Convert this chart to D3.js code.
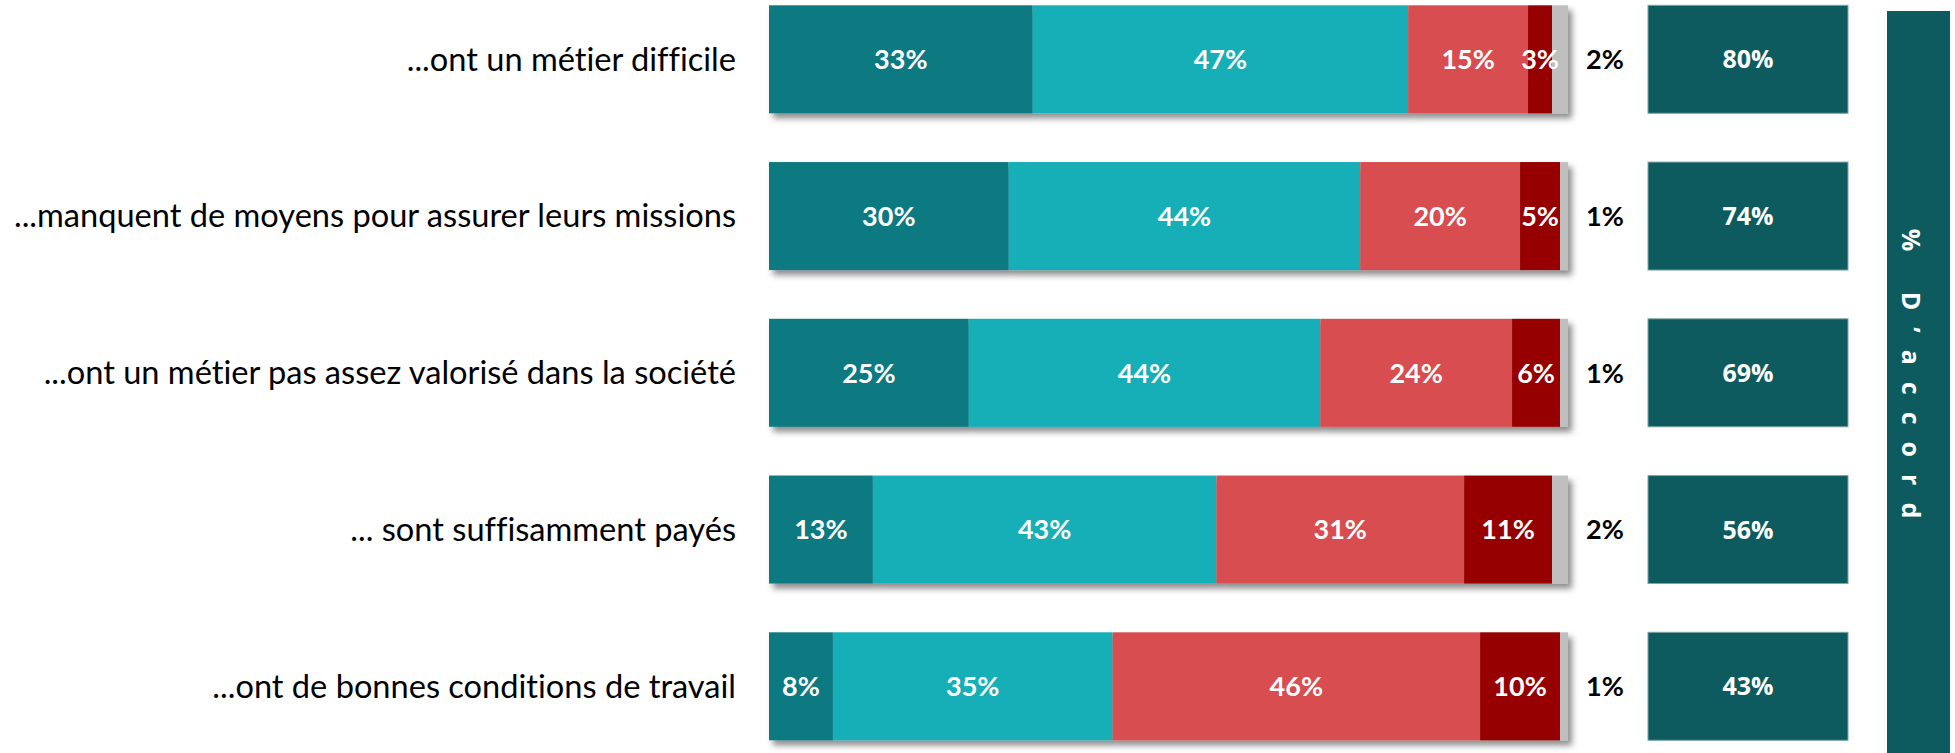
<!DOCTYPE html>
<html>
<head>
<meta charset="utf-8">
<script src="https://cdn.jsdelivr.net/npm/d3@7"></script>
<style>
  body { margin: 0; background: #fff; }
  text { font-family: Lato, "Open Sans", sans-serif; font-variant-ligatures: none; }
</style>
</head>
<body>
<script>
var categories = [
    "...ont un métier difficile",
    "...manquent de moyens pour assurer leurs missions",
    "...ont un métier pas assez valorisé dans la société",
    "... sont suffisamment payés",
    "...ont de bonnes conditions de travail"
];
var toutAFait = [33, 30, 25, 13, 8];
var plutotOui = [47, 44, 44, 43, 35];
var plutotNon = [15, 20, 24, 31, 46];
var pasDuTout = [3, 5, 6, 11, 10];
var nsp = [2, 1, 1, 2, 1];
var totalAccord = [80, 74, 69, 56, 43];

var seriesNames = ["toutAFait", "plutotOui", "plutotNon", "pasDuTout", "nsp"];
var seriesColors = ["#0f7980", "#14afb8", "#d84e50", "#960000", "#bfbfbf"];

var width = 1955, height = 753;

var svg = d3.select("body")
    .append("svg")
    .attr("width", width)
    .attr("height", height);

var defs = svg.append("defs");
defs.append("filter")
    .attr("id", "shadow")
    .attr("x", "-5%").attr("y", "-10%")
    .attr("width", "115%").attr("height", "130%")
    .append("feDropShadow")
    .attr("dx", 4).attr("dy", 5)
    .attr("stdDeviation", 3)
    .attr("flood-color", "#000")
    .attr("flood-opacity", 0.45);

// table built from the arrays
var table = categories.map(function (c, i) {
    return {
        cat: c,
        toutAFait: toutAFait[i],
        plutotOui: plutotOui[i],
        plutotNon: plutotNon[i],
        pasDuTout: pasDuTout[i],
        nsp: nsp[i],
        total: totalAccord[i]
    };
});

var stack = d3.stack().keys(seriesNames)(table);

var x = d3.scaleLinear().domain([0, 100]).range([769, 1568]);
var y = d3.scaleBand().domain(categories).range([5.3, 740.3]).paddingInner(0.311).paddingOuter(0);
var color = d3.scaleOrdinal().domain(seriesNames).range(seriesColors);

// category labels
svg.append("g").selectAll("text")
    .data(categories)
    .enter().append("text")
    .attr("x", 736)
    .attr("y", function (d) { return y(d) + y.bandwidth() / 2; })
    .attr("dy", "0.35em")
    .attr("text-anchor", "end")
    .style("font-size", "32.6px")
    .style("fill", "#000")
    .text(function (d) { return d; });

// stacked bars
var barG = svg.append("g");
table.forEach(function (row, i) {
    var g = barG.append("g").attr("filter", "url(#shadow)");
    stack.forEach(function (s) {
        g.append("rect")
            .attr("x", x(s[i][0]))
            .attr("y", y(row.cat))
            .attr("width", x(s[i][1]) - x(s[i][0]))
            .attr("height", y.bandwidth())
            .attr("fill", color(s.key));
    });
});

// labels inside bars
var labG = svg.append("g");
stack.forEach(function (s) {
    s.forEach(function (d, i) {
        var v = d[1] - d[0];
        var isNsp = s.key === "nsp";
        labG.append("text")
            .attr("x", isNsp ? 1605 : (x(d[0]) + x(d[1])) / 2)
            .attr("y", y(categories[i]) + y.bandwidth() / 2)
            .attr("dy", "0.36em")
            .attr("text-anchor", "middle")
            .style("font-size", "27px")
            .style("font-weight", "bold")
            .style("fill", isNsp ? "#000" : "#fff")
            .text(v + "%");
    });
});

// total accord boxes
var boxX = 1648, boxW = 200;
var boxG = svg.append("g");
boxG.selectAll("rect")
    .data(table)
    .enter().append("rect")
    .attr("x", boxX)
    .attr("y", function (d) { return y(d.cat); })
    .attr("width", boxW)
    .attr("height", y.bandwidth())
    .attr("fill", "#0d5b5e")
    .attr("stroke", "#7ea6a8")
    .attr("stroke-width", 1);

boxG.selectAll("text")
    .data(table)
    .enter().append("text")
    .attr("x", boxX + boxW / 2)
    .attr("y", function (d) { return y(d.cat) + y.bandwidth() / 2; })
    .attr("dy", "0.36em")
    .attr("text-anchor", "middle")
    .style("font-family", "'Open Sans', sans-serif")
    .style("font-size", "25px")
    .style("font-weight", "bold")
    .style("fill", "#fff")
    .text(function (d) { return d.total + "%"; });

// side band
svg.append("rect")
    .attr("x", 1887)
    .attr("y", 11)
    .attr("width", 63)
    .attr("height", height - 11)
    .attr("fill", "#0d5b5e");

svg.append("text")
    .attr("transform", "translate(1911,382) rotate(90)")
    .attr("text-anchor", "middle")
    .attr("dy", "0.35em")
    .style("font-family", "'Open Sans', sans-serif")
    .style("font-size", "25px")
    .style("font-weight", "bold")
    .style("letter-spacing", "17px")
    .style("fill", "#fff")
    .text("% D\u2019accord");
</script>
</body>
</html>
